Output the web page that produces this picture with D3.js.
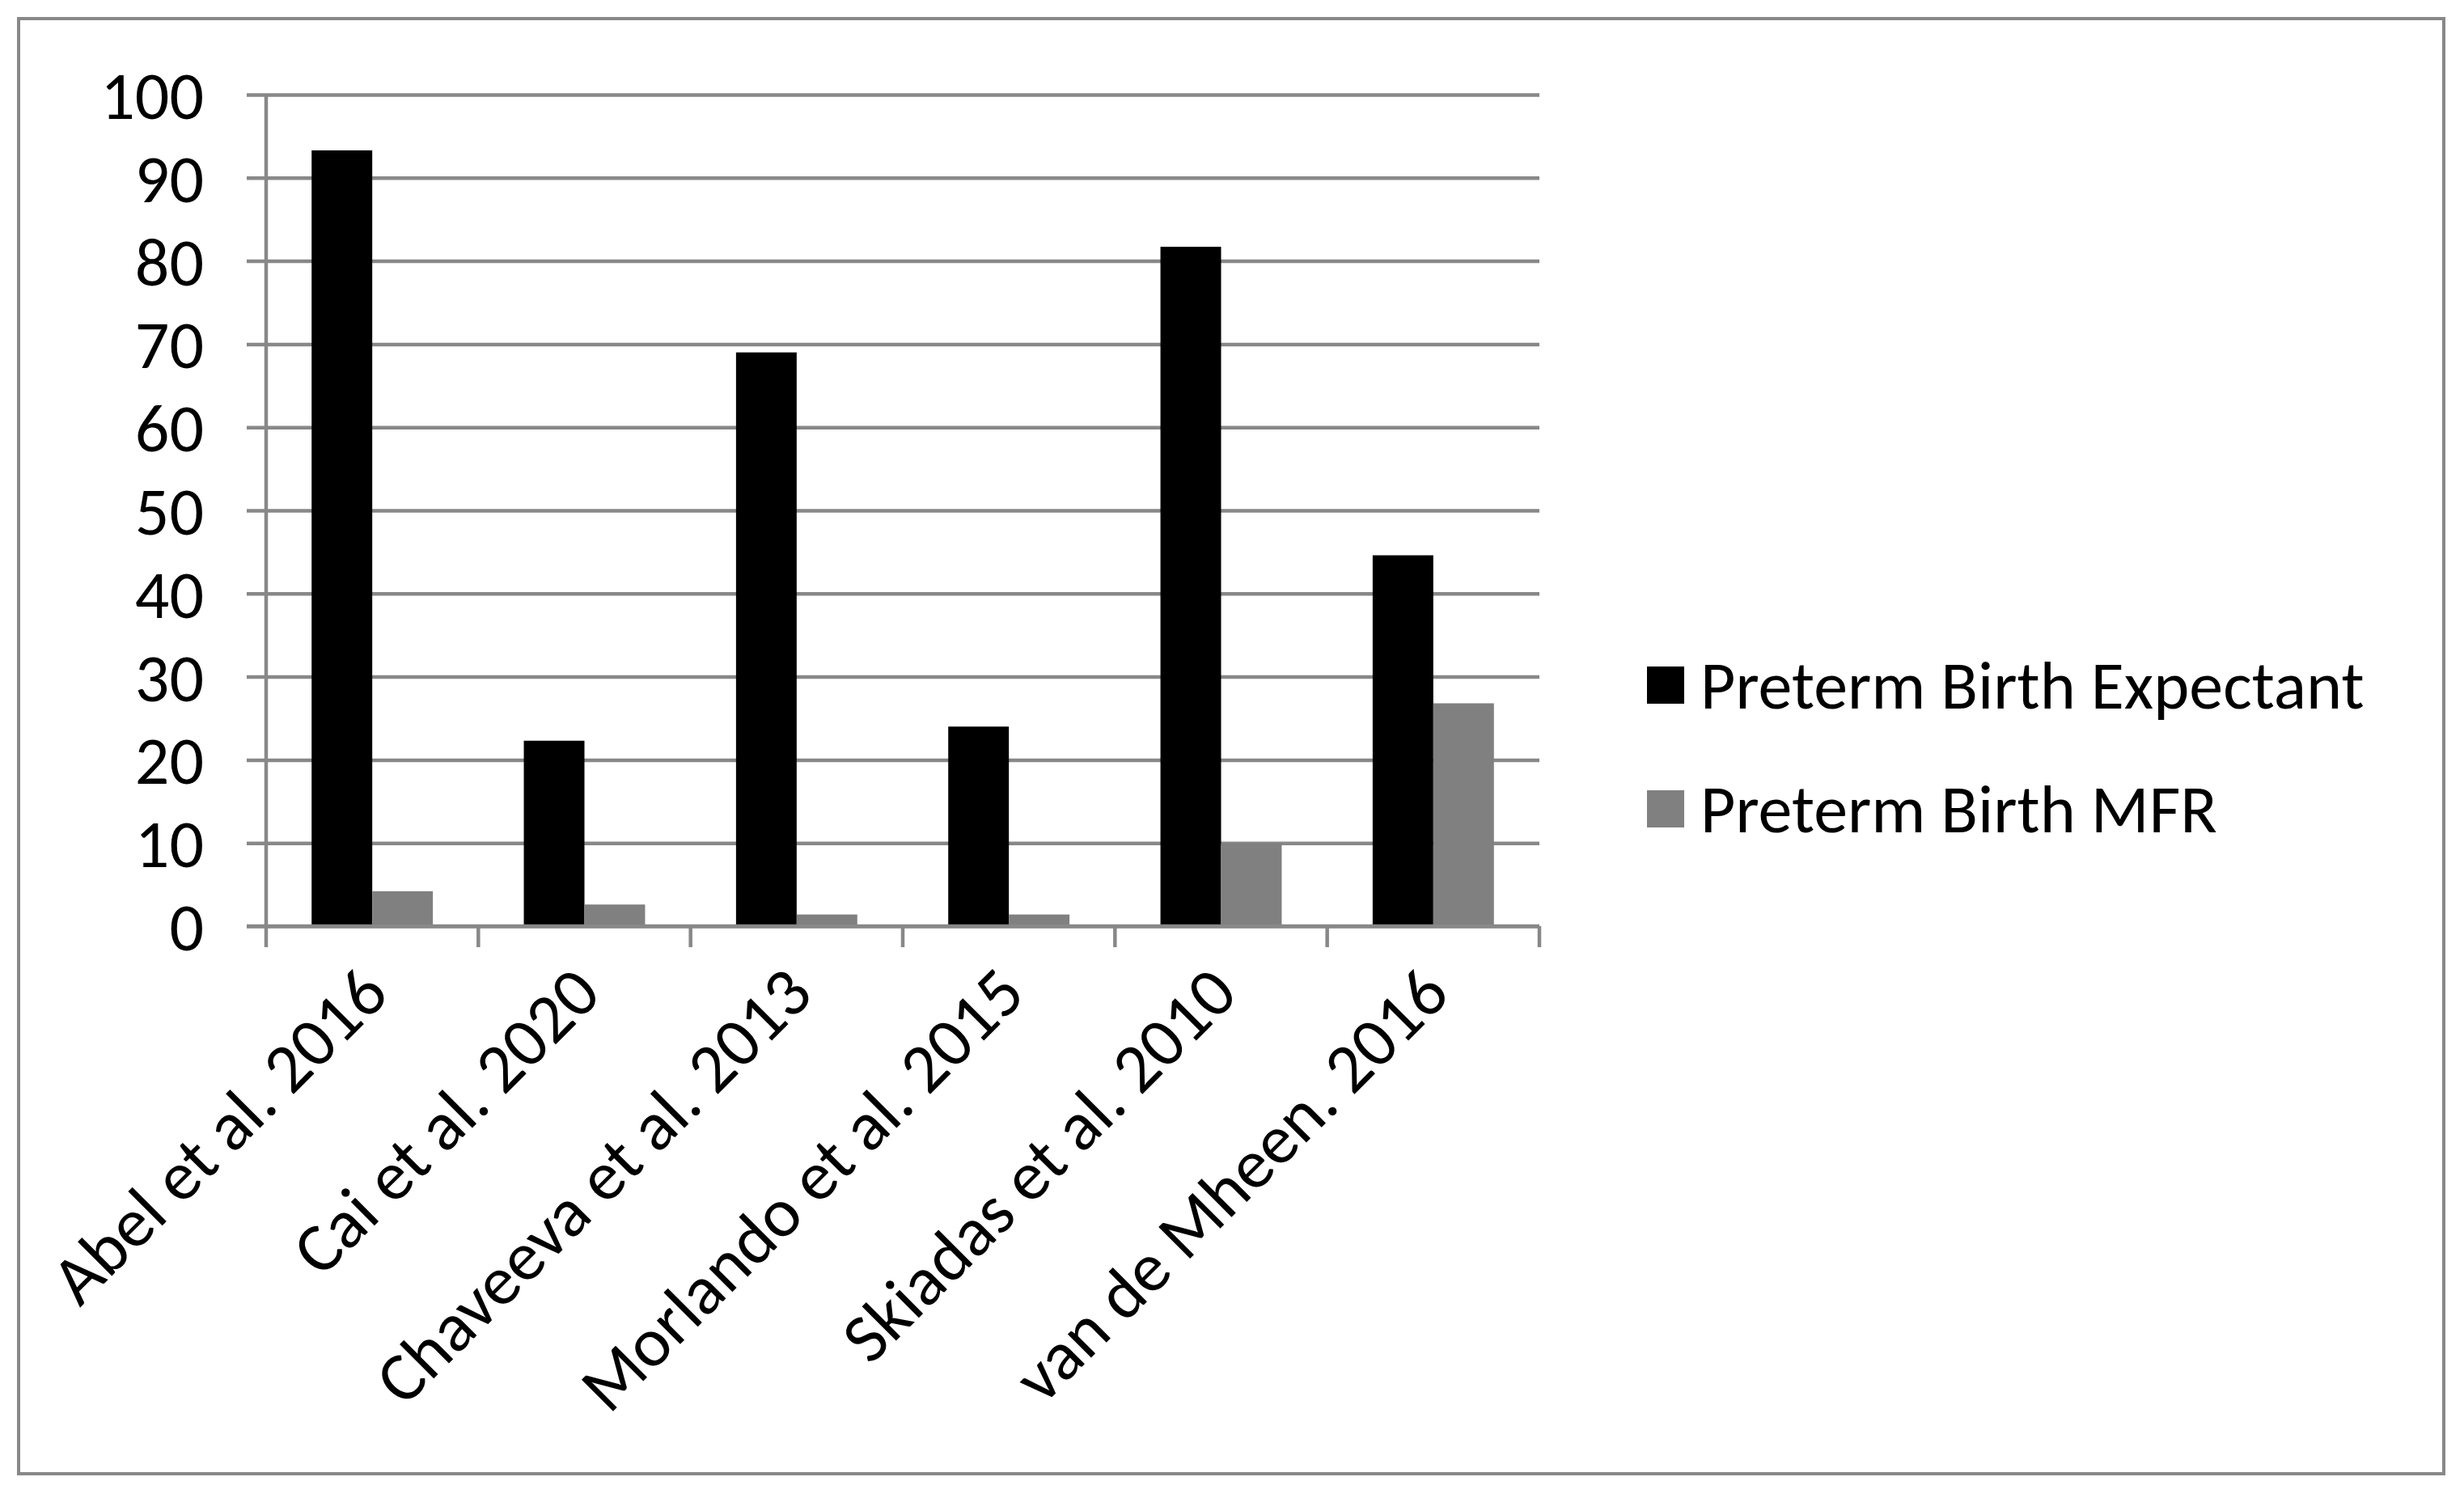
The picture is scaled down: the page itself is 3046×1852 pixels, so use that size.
<!DOCTYPE html>
<html>
<head>
<meta charset="utf-8">
<script src="https://cdn.jsdelivr.net/npm/d3@7"></script>
<style>
  body { margin: 0; background: #fff; }
  text { font-family: Carlito, Calibri, Lato, sans-serif; }
</style>
</head>
<body>
<svg id="chart" width="3046" height="1852"></svg>
<script>
// data
const studies = ["Abel et al. 2016", "Cai et al. 2020", "Chaveeva et al. 2013",
                 "Morlando et al. 2015", "Skiadas et al. 2010", "van de Mheen. 2016"];
const seriesNames = ["Preterm Birth Expectant", "Preterm Birth MFR"];
const expectant = [93.3, 22.3, 69.0, 24.0, 81.7, 44.6];
const mfr = [4.2, 2.6, 1.4, 1.4, 10.0, 26.8];
const yTicks = [0, 10, 20, 30, 40, 50, 60, 70, 80, 90, 100];
const colors = ["#000000", "#808080"];

const width = 3046, height = 1852;
const plotLeft = 329, plotRight = 1903, plotTop = 117, plotBottom = 1145;

const svg = d3.select("#chart");

// outer frame
svg.append("rect")
  .attr("x", 23).attr("y", 23)
  .attr("width", 2998).attr("height", 1799)
  .attr("fill", "#fff")
  .attr("stroke", "#888").attr("stroke-width", 4);

const x0 = d3.scaleBand(studies, [plotLeft, plotRight]).padding(0);
const x1 = d3.scaleBand(seriesNames, [0, x0.bandwidth()]).paddingInner(0).paddingOuter(0.75);
const y = d3.scaleLinear([0, 100], [plotBottom, plotTop]);

// gridlines + y axis labels
const yAxis = d3.axisLeft(y).tickValues(yTicks).tickSize(plotRight - plotLeft + 24).tickFormat(d3.format("d"));
svg.append("g")
  .attr("transform", `translate(${plotRight},0)`)
  .call(yAxis)
  .call(g => g.select(".domain").remove())
  .call(g => g.selectAll(".tick line").attr("stroke", "#888").attr("stroke-width", 4.5))
  .call(g => g.selectAll(".tick text")
      .attr("x", -(plotRight - 252))
      .attr("dy", "0.35em")
      .attr("font-size", 84)
      .attr("fill", "#000"));

// y axis line
svg.append("line")
  .attr("x1", plotLeft).attr("x2", plotLeft)
  .attr("y1", plotTop).attr("y2", plotBottom)
  .attr("stroke", "#888").attr("stroke-width", 4.5);

// bars
const table = studies.map((s, i) => ({ study: s, values: [expectant[i], mfr[i]] }));
const groups = svg.append("g").selectAll("g")
  .data(table).join("g")
  .attr("transform", d => `translate(${x0(d.study)},0)`);
groups.selectAll("rect")
  .data(d => d.values.map((v, j) => ({ key: seriesNames[j], value: v, j })))
  .join("rect")
  .attr("x", d => x1(d.key))
  .attr("width", x1.bandwidth())
  .attr("y", d => y(d.value))
  .attr("height", d => y(0) - y(d.value))
  .attr("fill", d => colors[d.j]);

// x axis with boundary ticks
const xBounds = studies.map(s => x0(s)).concat([plotRight]);
svg.append("line")
  .attr("x1", plotLeft - 24).attr("x2", plotRight)
  .attr("y1", y(0)).attr("y2", y(0))
  .attr("stroke", "#888").attr("stroke-width", 4.5);
svg.append("g").selectAll("line")
  .data(xBounds).join("line")
  .attr("x1", d => d).attr("x2", d => d)
  .attr("y1", y(0)).attr("y2", y(0) + 26)
  .attr("stroke", "#888").attr("stroke-width", 4.5);

// rotated category labels
svg.append("g").selectAll("text")
  .data(studies).join("text")
  .attr("transform", d => `translate(${x0(d) + x0.bandwidth() / 2 + 2},${y(0) + 66}) rotate(-45)`)
  .attr("text-anchor", "end")
  .attr("dy", "0.35em")
  .attr("font-size", 86)
  .attr("fill", "#000")
  .text(d => d);

// legend
const legend = svg.append("g").selectAll("g")
  .data(seriesNames).join("g")
  .attr("transform", (d, i) => `translate(2036,${847 + i * 153})`);
legend.append("rect")
  .attr("x", 0).attr("y", -23).attr("width", 46).attr("height", 46)
  .attr("fill", (d, i) => colors[i]);
legend.append("text")
  .attr("x", 66).attr("dy", "0.35em")
  .attr("font-size", 84)
  .attr("fill", "#000")
  .text(d => d);
</script>
</body>
</html>
